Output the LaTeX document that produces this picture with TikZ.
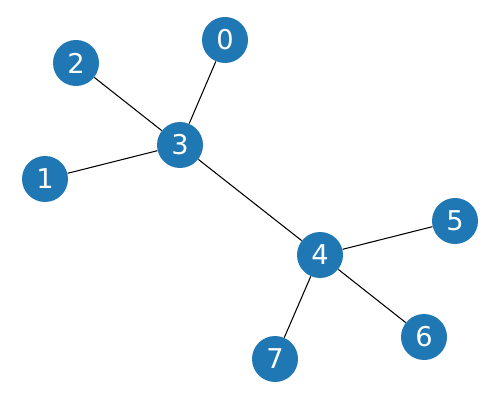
\documentclass[tikz,border=0pt]{standalone}
\usepackage{fontspec}
\setmainfont{DejaVu Sans}
\definecolor{nodeblue}{HTML}{1F77B4}
\tikzset{
  vertex/.style={circle, fill=nodeblue, text=white, minimum size=0.92cm,
    inner sep=0pt, font=\fontsize{15.5}{17}\selectfont},
  link/.style={draw=black, line width=0.6pt}
}

\begin{document}
\begin{tikzpicture}
  \useasboundingbox (0,0) rectangle (10,8);
  % Nodes
  \node[vertex] (n0) at (4.50, 7.20) {0};
  \node[vertex] (n1) at (0.90, 4.42) {1};
  \node[vertex] (n2) at (1.52, 6.74) {2};
  \node[vertex] (n3) at (3.60, 5.10) {3};
  \node[vertex] (n4) at (6.40, 2.90) {4};
  \node[vertex] (n5) at (9.10, 3.58) {5};
  \node[vertex] (n6) at (8.48, 1.26) {6};
  \node[vertex] (n7) at (5.50, 0.82) {7};

  % Edges
  \draw[link] (n0) -- (n3);
  \draw[link] (n1) -- (n3);
  \draw[link] (n2) -- (n3);
  \draw[link] (n3) -- (n4);
  \draw[link] (n4) -- (n5);
  \draw[link] (n4) -- (n6);
  \draw[link] (n4) -- (n7);
\end{tikzpicture}
\end{document}
